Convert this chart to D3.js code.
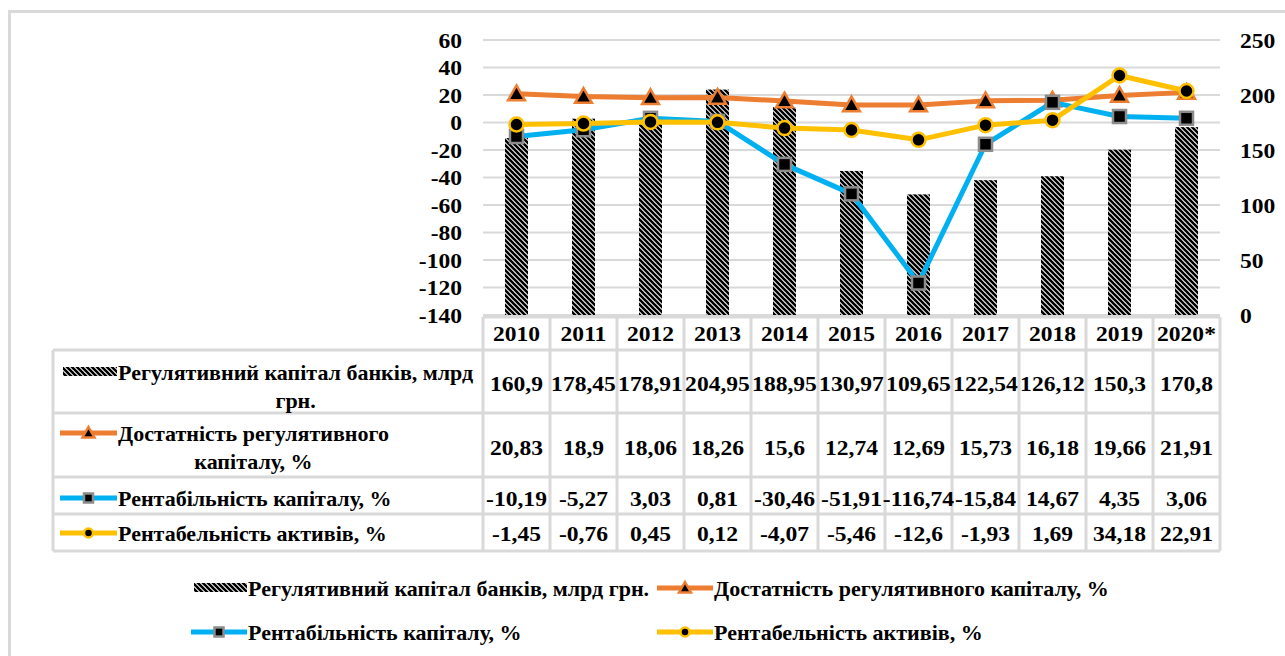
<!DOCTYPE html>
<html>
<head>
<meta charset="utf-8">
<script src="https://cdn.jsdelivr.net/npm/d3@7"></script>
<style>
  html, body { margin: 0; padding: 0; background: #fff; }
  svg text { font-family: "Liberation Serif", "Times New Roman", serif; font-weight: bold; fill: #000; }
</style>
</head>
<body>
<svg id="chart" width="1285" height="656"></svg>
<script>
const years = ['2010','2011','2012','2013','2014','2015','2016','2017','2018','2019','2020*'];
const capital = [160.9,178.45,178.91,204.95,188.95,130.97,109.65,122.54,126.12,150.3,170.8];
const adequacy = [20.83,18.9,18.06,18.26,15.6,12.74,12.69,15.73,16.18,19.66,21.91];
const roe = [-10.19,-5.27,3.03,0.81,-30.46,-51.91,-116.74,-15.84,14.67,4.35,3.06];
const roa = [-1.45,-0.76,0.45,0.12,-4.07,-5.46,-12.6,-1.93,1.69,34.18,22.91];
const leftTicks = [60,40,20,0,-20,-40,-60,-80,-100,-120,-140];
const rightTicks = [250,200,150,100,50,0];
const seriesNames = [
  'Регулятивний капітал банків, млрд грн.',
  'Достатність регулятивного капіталу, %',
  'Рентабільність капіталу, %',
  'Рентабельність активів, %'
];
const tableLabels = [
  ['Регулятивний капітал банків, млрд', 'грн.'],
  ['Достатність регулятивного', 'капіталу, %'],
  ['Рентабільність капіталу, %'],
  ['Рентабельність активів, %']
];

const C = { orange: '#ED7D31', blue: '#00B0F0', yellow: '#FFC000', grid: '#d9d9d9', sqEdge: '#8c8c8c' };
const FS = 22;
const NUM_STRETCH = 1.07;

const svg = d3.select('#chart');
const defs = svg.append('defs');
const pat = defs.append('pattern').attr('id', 'hatch').attr('patternUnits', 'userSpaceOnUse')
  .attr('width', 5).attr('height', 5);
pat.append('rect').attr('width', 5).attr('height', 5).attr('fill', '#fff');
pat.append('path').attr('d', 'M0,0 L5,5 M-1,4 L1,6 M4,-1 L6,1')
  .attr('stroke', '#000').attr('stroke-width', 2.6);

// outer frame (left + top visible)
svg.append('path').attr('d', 'M9.5,656 V11.5 H1285').attr('fill', 'none')
  .attr('stroke', C.grid).attr('stroke-width', 3);

const X0 = 483, X1 = 1220, YT = 40, YB = 315;
const x = d3.scaleBand().domain(years).range([X0, X1]).padding(0);
const yL = d3.scaleLinear().domain([-140, 60]).range([YB, YT]);
const yR = d3.scaleLinear().domain([0, 250]).range([YB, YT]);
const cx = d => x(d) + x.bandwidth() / 2;

// gridlines
svg.append('g').selectAll('line').data(leftTicks).join('line')
  .attr('x1', X0).attr('x2', X1).attr('y1', d => yL(d)).attr('y2', d => yL(d))
  .attr('stroke', C.grid).attr('stroke-width', 2);

// axes
const axL = svg.append('g').attr('transform', `translate(${465},0)`)
  .call(d3.axisLeft(yL).tickValues(leftTicks).tickSize(0).tickPadding(3).tickFormat(d => String(d)));
axL.select('.domain').remove();
const axR = svg.append('g').attr('transform', `translate(${1237},0)`)
  .call(d3.axisRight(yR).tickValues(rightTicks).tickSize(0).tickPadding(3));
axR.select('.domain').remove();
svg.selectAll('.tick text').attr('font-size', FS).attr('font-family', '"Liberation Serif", serif')
  .attr('font-weight', 'bold').attr('fill', '#000').classed('num', true);

// bars
const bw = 23;
svg.append('g').selectAll('rect').data(capital).join('rect')
  .attr('x', (d, i) => cx(years[i]) - bw / 2).attr('width', bw)
  .attr('y', d => yR(d)).attr('height', d => yR(0) - yR(d))
  .attr('fill', 'url(#hatch)');

// markers
function marker(g, type, px, py, s) {
  if (type === 'tri') {
    const h = s;
    g.append('path').attr('d', `M${px},${py - h * 0.6} L${px + h * 0.6},${py + h * 0.45} L${px - h * 0.6},${py + h * 0.45} Z`)
      .attr('fill', '#000').attr('stroke', C.orange).attr('stroke-width', 2.5).attr('stroke-linejoin', 'miter');
  } else if (type === 'sq') {
    g.append('rect').attr('x', px - s / 2).attr('y', py - s / 2).attr('width', s).attr('height', s)
      .attr('fill', '#000').attr('stroke', C.sqEdge).attr('stroke-width', 2.5);
  } else {
    g.append('circle').attr('cx', px).attr('cy', py).attr('r', s / 2)
      .attr('fill', '#000').attr('stroke', C.yellow).attr('stroke-width', 2.5);
  }
}

const lineSeries = [
  { vals: adequacy, color: C.orange, m: 'tri', ms: 14 },
  { vals: roe, color: C.blue, m: 'sq', ms: 13 },
  { vals: roa, color: C.yellow, m: 'circ', ms: 14 }
];
const lineGen = d3.line().x((d, i) => cx(years[i])).y(d => yL(d));
lineSeries.forEach(s => {
  const g = svg.append('g');
  g.append('path').datum(s.vals).attr('d', lineGen).attr('fill', 'none')
    .attr('stroke', s.color).attr('stroke-width', 5).attr('stroke-linejoin', 'round');
  s.vals.forEach((v, i) => marker(g, s.m, cx(years[i]), yL(v), s.ms));
});

// data table
const rowB = [317, 350, 413, 477, 514, 551];
const TL = 53;
const tg = svg.append('g');
tg.append('line').attr('x1', X0).attr('x2', X1).attr('y1', rowB[0]).attr('y2', rowB[0]);
rowB.slice(1).forEach(yy => tg.append('line').attr('x1', TL).attr('x2', X1).attr('y1', yy).attr('y2', yy));
tg.append('line').attr('x1', TL).attr('x2', TL).attr('y1', rowB[1]).attr('y2', rowB[5]);
years.forEach(yr => tg.append('line').attr('x1', x(yr)).attr('x2', x(yr)).attr('y1', rowB[0]).attr('y2', rowB[5]));
tg.append('line').attr('x1', X1).attr('x2', X1).attr('y1', rowB[0]).attr('y2', rowB[5]);
tg.selectAll('line').attr('stroke', C.grid).attr('stroke-width', 3);

// header
svg.append('g').selectAll('text').data(years).join('text')
  .attr('class', 'num')
  .attr('x', d => cx(d)).attr('y', 333).attr('dy', '0.35em').attr('text-anchor', 'middle')
  .attr('font-size', FS).text(d => d);

const fmt = v => String(v).replace('.', ',');
const valueRows = [capital, adequacy, roe, roa];
const valueY = [383, 447, 498, 533];
valueRows.forEach((vals, r) => {
  svg.append('g').selectAll('text').data(vals).join('text')
    .attr('class', 'num')
    .attr('x', (d, i) => cx(years[i])).attr('y', valueY[r]).attr('dy', '0.35em')
    .attr('text-anchor', 'middle').attr('font-size', FS).text(fmt);
});

// legend keys
function key(g, kind, x0, x1, yy) {
  if (kind === 0) {
    g.append('rect').attr('x', x0 + 3).attr('y', yy - 5).attr('width', x1 - x0 - 3).attr('height', 9)
      .attr('fill', 'url(#hatch)');
  } else {
    const s = lineSeries[kind - 1];
    g.append('line').attr('x1', x0).attr('x2', x1).attr('y1', yy).attr('y2', yy)
      .attr('stroke', s.color).attr('stroke-width', 5);
    marker(g, s.m, (x0 + x1) / 2, yy, s.m === 'tri' ? 10 : 9);
  }
}

// table row labels
const labelLine1Y = [372, 433, 498, 533];
tableLabels.forEach((lines, r) => {
  const g = svg.append('g');
  key(g, r, 60, 117, labelLine1Y[r]);
  const t1 = g.append('text').attr('x', 118).attr('y', labelLine1Y[r]).attr('dy', '0.35em')
    .attr('font-size', FS).text(lines[0]);
  const w = t1.node().getComputedTextLength();
  if (lines[1]) {
    g.append('text').attr('x', 118 + w / 2).attr('y', labelLine1Y[r] + 28).attr('dy', '0.35em')
      .attr('text-anchor', 'middle').attr('font-size', FS).text(lines[1]);
  }
});

// bottom legend
const legPos = [[191, 588], [657, 588], [191, 632], [657, 632]];
seriesNames.forEach((name, i) => {
  const g = svg.append('g');
  const [lx, ly] = legPos[i];
  key(g, i, lx, lx + 56, ly);
  g.append('text').attr('x', lx + 57).attr('y', ly).attr('dy', '0.35em')
    .attr('font-size', FS).text(name);
});

// slight horizontal stretch of numeric text, as in the reference rendering
svg.selectAll('text.num').each(function () {
  const w = this.getComputedTextLength();
  d3.select(this).attr('textLength', w * NUM_STRETCH).attr('lengthAdjust', 'spacingAndGlyphs');
});
</script>
</body>
</html>
